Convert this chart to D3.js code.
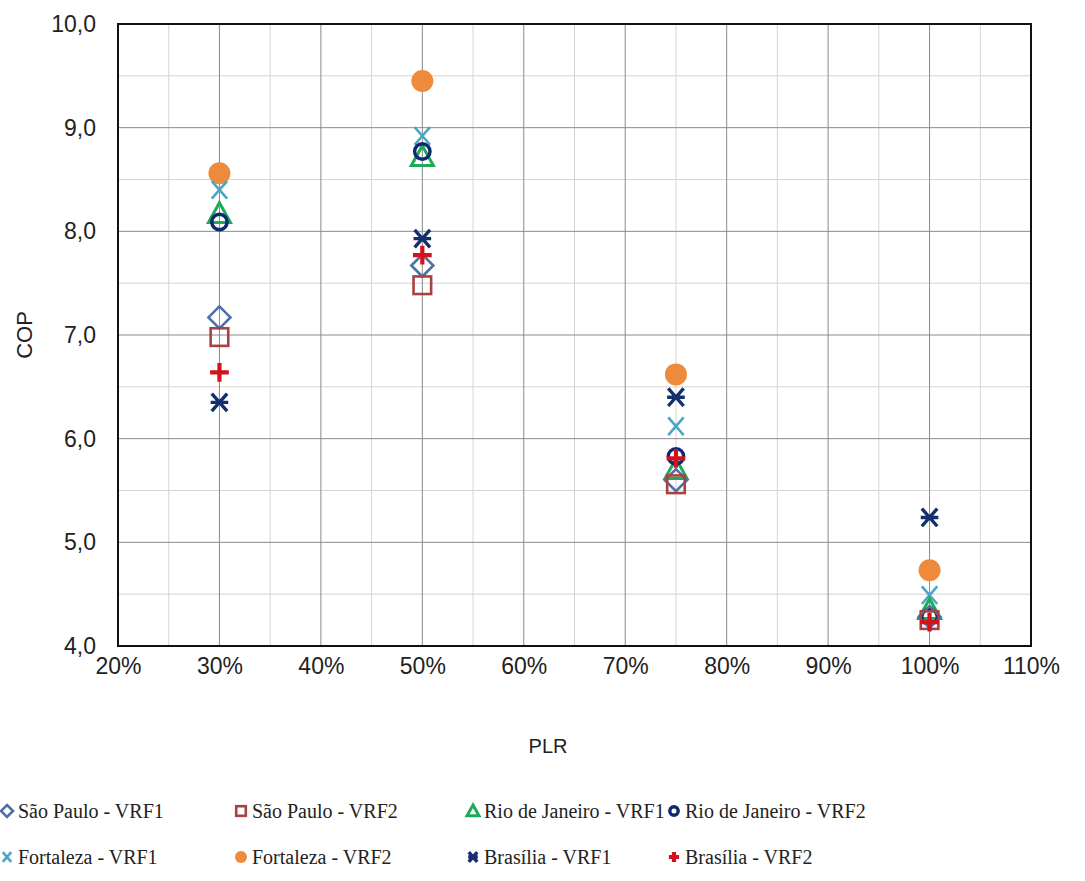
<!DOCTYPE html>
<html><head><meta charset="utf-8">
<script src="https://cdn.jsdelivr.net/npm/d3@7"></script>
<style>body{margin:0;background:#fff}</style>
</head><body>
<script>
const plr = [0.30, 0.50, 0.75, 1.00];
const seriesNames = ["São Paulo - VRF1","São Paulo - VRF2","Rio de Janeiro - VRF1","Rio de Janeiro - VRF2","Fortaleza - VRF1","Fortaleza - VRF2","Brasília - VRF1","Brasília - VRF2"];
const spVRF1 = [7.17, 7.67, 5.60, 4.28];
const spVRF2 = [6.98, 7.48, 5.56, 4.25];
const rjVRF1 = [8.17, 8.72, 5.70, 4.35];
const rjVRF2 = [8.09, 8.77, 5.83, 4.28];
const ftVRF1 = [8.40, 8.92, 6.12, 4.49];
const ftVRF2 = [8.56, 9.45, 6.62, 4.73];
const brVRF1 = [6.35, 7.93, 6.40, 5.24];
const brVRF2 = [6.64, 7.77, 5.81, 4.23];
const yTicks = [4,5,6,7,8,9,10];
const xTicks = [0.2,0.3,0.4,0.5,0.6,0.7,0.8,0.9,1.0,1.1];

const W=1085,H=881;
const svg=d3.select("body").append("svg").attr("width",W).attr("height",H);
const L=118,R=1031,T=24,B=646;
const x=d3.scaleLinear().domain([0.2,1.1]).range([L,R]);
const y=d3.scaleLinear().domain([4,10]).range([B,T]);
const SANS="Arial, 'Liberation Sans', sans-serif";
const SERIF="'Liberation Serif', 'Times New Roman', serif";

// minor grid
const g=svg.append("g");
d3.range(0.25,1.1,0.1).forEach(v=>g.append("line").attr("x1",x(v)).attr("x2",x(v)).attr("y1",T).attr("y2",B).attr("stroke","#d4d4d4").attr("stroke-width",1));
d3.range(4.5,10,1).forEach(v=>g.append("line").attr("x1",L).attr("x2",R).attr("y1",y(v)).attr("y2",y(v)).attr("stroke","#d4d4d4").attr("stroke-width",1));
// major grid
xTicks.forEach(v=>g.append("line").attr("x1",x(v)).attr("x2",x(v)).attr("y1",T).attr("y2",B).attr("stroke","#8a8a8a").attr("stroke-width",1));
yTicks.forEach(v=>g.append("line").attr("x1",L).attr("x2",R).attr("y1",y(v)).attr("y2",y(v)).attr("stroke","#8a8a8a").attr("stroke-width",1));
svg.append("rect").attr("x",L).attr("y",T).attr("width",R-L).attr("height",B-T).attr("fill","none").attr("stroke","#111").attr("stroke-width",2);

const xAxis=svg.append("g").attr("transform",`translate(0,${B})`).call(d3.axisBottom(x).tickValues(xTicks).tickSize(0).tickPadding(12).tickFormat(d=>Math.round(d*100)+"%"));
xAxis.select(".domain").remove();
xAxis.selectAll("text").style("font-family",SANS).style("font-size","23px").attr("fill","#222");
const yAxis=svg.append("g").attr("transform",`translate(${L},0)`).call(d3.axisLeft(y).tickValues(yTicks).tickSize(0).tickPadding(22).tickFormat(d=>d3.format(".1f")(d).replace(".",",")));
yAxis.select(".domain").remove();
yAxis.selectAll("text").style("font-family",SANS).style("font-size","23px").attr("fill","#222");

svg.append("text").attr("x",548).attr("y",753).attr("text-anchor","middle").style("font-family",SANS).style("font-size","20px").attr("fill","#222").text("PLR");
svg.append("text").attr("transform","translate(32,335) rotate(-90)").attr("text-anchor","middle").style("font-family",SANS).style("font-size","22px").attr("fill","#222").text("COP");

function drawMarker(sel,type,color,s){
  if(type==="diamond") sel.append("path").attr("d",`M0,${-s}L${s},0L0,${s}L${-s},0Z`).attr("fill","none").attr("stroke",color).attr("stroke-width",2.6);
  else if(type==="square") sel.append("rect").attr("x",-s*0.8).attr("y",-s*0.8).attr("width",s*1.6).attr("height",s*1.6).attr("fill","none").attr("stroke",color).attr("stroke-width",2.6);
  else if(type==="triangle") sel.append("path").attr("d",`M0,${-s}L${s},${s*0.8}L${-s},${s*0.8}Z`).attr("fill","none").attr("stroke",color).attr("stroke-width",3);
  else if(type==="ring") sel.append("circle").attr("r",s*0.7).attr("fill","none").attr("stroke",color).attr("stroke-width",3.4);
  else if(type==="x") sel.append("path").attr("d",`M${-s*0.7},${-s*0.8}L${s*0.7},${s*0.8}M${s*0.7},${-s*0.8}L${-s*0.7},${s*0.8}`).attr("stroke",color).attr("stroke-width",2.6);
  else if(type==="dot") sel.append("circle").attr("r",s).attr("fill",color);
  else if(type==="star") sel.append("path").attr("d",`M${-s*0.7},${-s*0.8}L${s*0.7},${s*0.8}M${s*0.7},${-s*0.8}L${-s*0.7},${s*0.8}M${-s*0.8},0L${s*0.8},0`).attr("stroke",color).attr("stroke-width",3.4);
  else if(type==="plus") sel.append("path").attr("d",`M0,${-s*0.85}L0,${s*0.85}M${-s*0.85},0L${s*0.85},0`).attr("stroke",color).attr("stroke-width",4.2);
}
const series=[
  {v:spVRF1,t:"diamond",c:"#4f6fa8"},
  {v:spVRF2,t:"square",c:"#a84242"},
  {v:rjVRF1,t:"triangle",c:"#1faa59"},
  {v:rjVRF2,t:"ring",c:"#0c2a6e"},
  {v:ftVRF1,t:"x",c:"#4ba6c4"},
  {v:ftVRF2,t:"dot",c:"#ee8a3c"},
  {v:brVRF1,t:"star",c:"#142f6e"},
  {v:brVRF2,t:"plus",c:"#d4121b"}
];
const order=[5,4,2,3,0,1,6,7];
order.forEach(i=>{
  const s=series[i];
  s.v.forEach((val,j)=>{
    const m=svg.append("g").attr("transform",`translate(${x(plr[j])},${y(val)})`);
    drawMarker(m,s.t,s.c,s.t==="dot"?11:11);
  });
});

// legend
const legX=[7,241,473,674], legY=[818,864];
series.forEach((s,i)=>{
  const col=i%4,row=Math.floor(i/4);
  const m=svg.append("g").attr("transform",`translate(${legX[col]},${legY[row]-7})`);
  drawMarker(m,s.t,s.c,6);
  svg.append("text").attr("x",legX[col]+11).attr("y",legY[row]).style("font-family",SERIF).style("font-size","20px").attr("fill","#222").text(seriesNames[i]);
});
</script>
</body></html>
